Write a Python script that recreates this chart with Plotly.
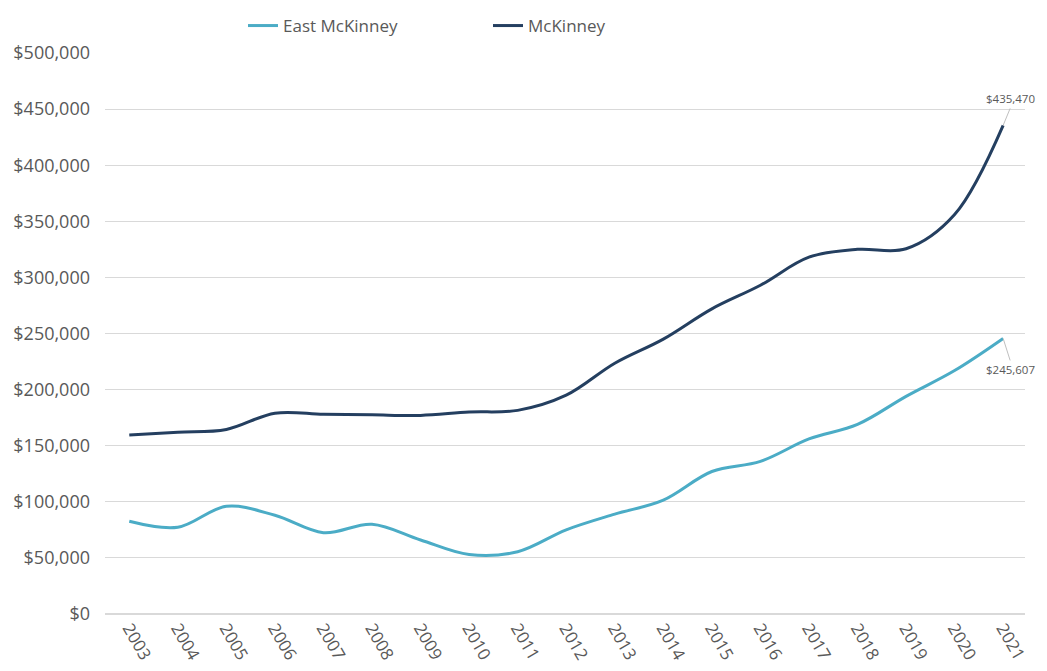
import plotly.graph_objects as go

years = list(range(2003, 2022))
east_mckinney = [82600, 77300, 96000, 88000, 72500, 80000, 66000, 53000, 55500, 75000,
                 89000, 101500, 127000, 136000, 156000, 169000, 194000, 217000, 245607]
mckinney = [159500, 162000, 164500, 179000, 178000, 177500, 177000, 180000, 181500, 195000,
            223500, 245000, 272000, 293000, 318000, 325000, 325500, 356000, 435470]

FONT = "Open Sans"
GREY = "#595959"

fig = go.Figure()
fig.add_trace(go.Scatter(x=years, y=east_mckinney, name="East McKinney", mode="lines",
                         line=dict(color="#4BACC6", width=3, shape="spline", smoothing=1.0)))
fig.add_trace(go.Scatter(x=years, y=mckinney, name="McKinney", mode="lines",
                         line=dict(color="#243F60", width=3, shape="spline", smoothing=1.0)))

# end labels with thin grey leader lines
fig.add_annotation(x=years[-1], y=mckinney[-1], text=f"${mckinney[-1]:,}",
                   showarrow=True, arrowhead=0, arrowwidth=1, arrowcolor="#BFBFBF",
                   ax=7, ay=-17, xanchor="center", yanchor="bottom",
                   font=dict(family=FONT, size=11.5, color=GREY))
fig.add_annotation(x=years[-1], y=east_mckinney[-1], text=f"${east_mckinney[-1]:,}",
                   showarrow=True, arrowhead=0, arrowwidth=1, arrowcolor="#BFBFBF",
                   ax=7, ay=22, xanchor="center", yanchor="top",
                   font=dict(family=FONT, size=11.5, color=GREY))

fig.update_layout(
    width=1031, height=655,
    margin=dict(l=97, r=14, t=45, b=49),
    plot_bgcolor="white", paper_bgcolor="white",
    font=dict(family=FONT, size=17, color=GREY),
    showlegend=True,
    legend=dict(orientation="h", x=0.15, y=1.0, yref="container",
                yanchor="top", xanchor="left",
                entrywidth=200, entrywidthmode="pixels",
                font=dict(family=FONT, size=17, color=GREY)),
    xaxis=dict(range=[2002.5, 2021.45], tickmode="array", tickvals=years,
               ticktext=[str(y) for y in years], tickangle=60, showgrid=False,
               zeroline=False, showline=False, automargin=False,
               tickfont=dict(size=17, color=GREY)),
    yaxis=dict(range=[0, 500000], dtick=50000, tickprefix="$", tickformat=",",
               showgrid=True, gridcolor="#D9D9D9", gridwidth=1, zeroline=True,
               zerolinecolor="#D9D9D9", zerolinewidth=2, ticks="", ticklabelstandoff=14,
               automargin=False, tickfont=dict(size=18, color=GREY)),
)

fig.write_html("out.html")
